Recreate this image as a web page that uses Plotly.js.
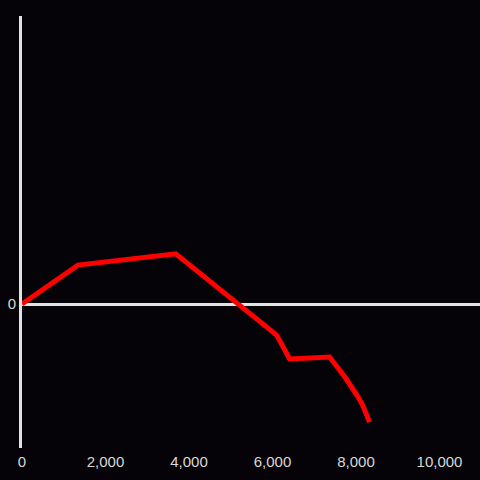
<!DOCTYPE html>
<html><head><meta charset="utf-8">
<script src="https://cdn.plot.ly/plotly-3.0.1.min.js"></script>
<style>html,body{margin:0;padding:0;background:#050307;}</style>
</head><body><div id="chart" style="width:480px;height:480px;"></div>
<script>
const xValues = [0, 1340, 3684, 6100, 6411, 7368, 7751, 7919, 8062, 8158, 8230, 8325];
const yValues = [0, 13.5, 17.4, -10.8, -19.1, -18.4, -25.7, -29.2, -32.6, -35.1, -37.5, -41.0];
const xTickVals = [0, 2000, 4000, 6000, 8000, 10000];
const xTickText = ['0', '2,000', '4,000', '6,000', '8,000', '10,000'];
const yTickVals = [0];
const yTickText = ['0'];

Plotly.newPlot('chart', [{
  x: xValues, y: yValues, type: 'scatter', mode: 'lines',
  line: {color: '#ff0000', width: 5}, hoverinfo: 'skip'
}], {
  width: 480, height: 480,
  paper_bgcolor: '#050307', plot_bgcolor: '#050307',
  margin: {l: 22, r: 0, t: 16, b: 32},
  showlegend: false,
  font: {family: 'Liberation Sans, Arial, sans-serif', size: 15, color: '#d8d8d8'},
  xaxis: {
    range: [0, 10970], tickvals: xTickVals, ticktext: xTickText,
    showgrid: false, zeroline: false, showline: false, ticks: '',
    ticklabelstandoff: 3,
    tickfont: {size: 15, color: '#d8d8d8'}
  },
  yaxis: {
    range: [-50, 100], tickvals: yTickVals, ticktext: yTickText,
    showgrid: false, zeroline: true, zerolinecolor: '#e2e2e2', zerolinewidth: 3,
    showline: true, linecolor: '#e2e2e2', linewidth: 3, ticks: '',
    tickfont: {size: 15, color: '#d8d8d8'}
  }
}, {staticPlot: true});
</script></body></html>
